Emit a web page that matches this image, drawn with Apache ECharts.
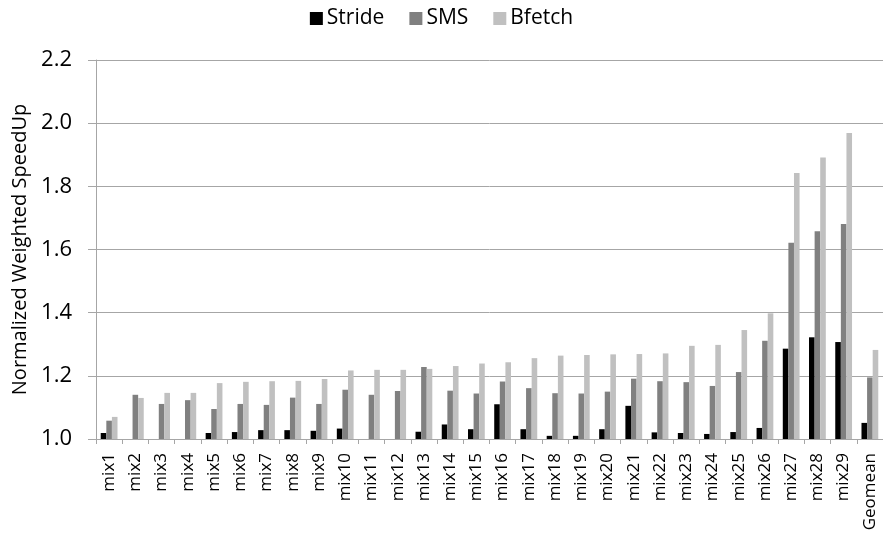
<!DOCTYPE html>
<html>
<head>
<meta charset="utf-8">
<script src="https://cdn.jsdelivr.net/npm/echarts@6/dist/echarts.min.js"></script>
<style>
  html, body { margin: 0; padding: 0; background: #ffffff; }
  #chart { width: 883px; height: 537px; }
</style>
</head>
<body>
<div id="chart"></div>
<script>
// Workload mixes plus the geometric mean
const categories = [
  'mix1', 'mix2', 'mix3', 'mix4', 'mix5', 'mix6', 'mix7', 'mix8', 'mix9', 'mix10',
  'mix11', 'mix12', 'mix13', 'mix14', 'mix15', 'mix16', 'mix17', 'mix18', 'mix19', 'mix20',
  'mix21', 'mix22', 'mix23', 'mix24', 'mix25', 'mix26', 'mix27', 'mix28', 'mix29', 'Geomean'
];

// Normalized weighted speedup per prefetcher
const strideValues = [
  1.019, 1.000, 0.997, 1.000, 1.019, 1.022, 1.028, 1.028, 1.026, 1.033,
  0.999, 1.000, 1.023, 1.046, 1.031, 1.110, 1.031, 1.010, 1.010, 1.031,
  1.105, 1.021, 1.019, 1.016, 1.022, 1.035, 1.286, 1.322, 1.307, 1.051
];
const smsValues = [
  1.058, 1.140, 1.111, 1.123, 1.095, 1.111, 1.108, 1.131, 1.111, 1.156,
  1.140, 1.152, 1.228, 1.153, 1.144, 1.182, 1.161, 1.145, 1.144, 1.150,
  1.191, 1.183, 1.180, 1.168, 1.212, 1.311, 1.621, 1.658, 1.681, 1.195
];
const bfetchValues = [
  1.070, 1.130, 1.146, 1.146, 1.177, 1.181, 1.183, 1.184, 1.190, 1.217,
  1.219, 1.219, 1.222, 1.231, 1.239, 1.243, 1.256, 1.264, 1.266, 1.268,
  1.269, 1.271, 1.295, 1.298, 1.345, 1.398, 1.842, 1.891, 1.969, 1.282
];

// Y axis range and step
const yMin = 1.0;
const yMax = 2.2;
const yStep = 0.2;

const FONT = 'Open Sans';
const AXIS_GRAY = '#a6a6a6';

const chart = echarts.init(document.getElementById('chart'), null, { renderer: 'canvas' });

function barSeries(name, data, color) {
  return {
    name: name,
    type: 'bar',
    data: data,
    barGap: '0%',
    barCategoryGap: '36%',
    itemStyle: { color: color },
    animation: false
  };
}

chart.setOption({
  backgroundColor: '#ffffff',
  textStyle: { fontFamily: FONT },
  legend: {
    top: 3,
    left: 'center',
    itemWidth: 13,
    itemHeight: 13,
    itemGap: 25,
    textStyle: { fontFamily: FONT, fontSize: 21, color: '#000000', padding: [0, 0, 0, -1] },
    icon: 'rect',
    data: ['Stride', 'SMS', 'Bfetch']
  },
  grid: {
    left: 96,
    top: 60,
    width: 792,
    height: 379,
    containLabel: false
  },
  xAxis: {
    type: 'category',
    data: categories,
    axisLine: { lineStyle: { color: AXIS_GRAY, width: 1 } },
    axisTick: { show: true, alignWithLabel: false, length: 5, lineStyle: { color: AXIS_GRAY } },
    axisLabel: {
      rotate: 90,
      interval: 0,
      margin: 14,
      fontFamily: FONT,
      fontSize: 17,
      color: '#000000'
    }
  },
  yAxis: {
    type: 'value',
    min: yMin,
    max: yMax,
    interval: yStep,
    name: 'Normalized Weighted SpeedUp',
    nameLocation: 'middle',
    nameGap: 64,
    nameRotate: 90,
    nameTextStyle: { fontFamily: FONT, fontSize: 20, color: '#000000' },
    axisLine: { show: true, lineStyle: { color: AXIS_GRAY, width: 1 } },
    axisTick: { show: true, length: 8, lineStyle: { color: AXIS_GRAY } },
    axisLabel: {
      margin: 24,
      fontFamily: FONT,
      fontSize: 22,
      color: '#000000',
      formatter: function (v) { return v.toFixed(1); }
    },
    splitLine: { show: true, lineStyle: { color: AXIS_GRAY, width: 1 } }
  },
  series: [
    barSeries('Stride', strideValues, '#000000'),
    barSeries('SMS', smsValues, '#808080'),
    barSeries('Bfetch', bfetchValues, '#c0c0c0')
  ]
});
</script>
</body>
</html>
